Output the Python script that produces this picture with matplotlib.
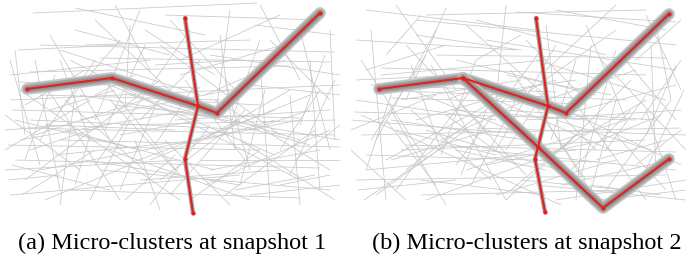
import matplotlib
matplotlib.use("Agg")
import matplotlib.pyplot as plt
from matplotlib.collections import LineCollection

# pixel-like coordinates inside each panel (x right, y down), panel is 346 x 215

# background trajectories, snapshot 1
seg_a = [
    (33, 13, 257, 3), (75, 8, 205, 35), (115, 5, 150, 70), (18, 50, 120, 45),
    (15, 50, 25, 135), (40, 45, 335, 52), (50, 35, 110, 140), (140, 10, 95, 120),
    (170, 20, 240, 95), (230, 10, 215, 120), (260, 5, 300, 80), (280, 15, 180, 60),
    (300, 30, 330, 150), (10, 75, 150, 60), (5, 115, 80, 170), (10, 100, 340, 85),
    (20, 140, 190, 110), (12, 165, 110, 190), (10, 195, 240, 175), (25, 180, 160, 80),
    (60, 205, 75, 95), (90, 200, 130, 120), (110, 150, 250, 200), (130, 95, 310, 145),
    (150, 205, 210, 125), (175, 120, 330, 110), (240, 140, 335, 200), (260, 60, 270, 200),
    (290, 95, 300, 205), (315, 130, 225, 195), (200, 160, 340, 160), (30, 120, 260, 130),
    (45, 85, 120, 200), (70, 60, 300, 180), (100, 170, 330, 190), (120, 40, 60, 110),
    (160, 45, 280, 135), (190, 30, 95, 165), (210, 55, 340, 75), (5, 150, 90, 100),
    (15, 120, 140, 150), (55, 155, 200, 140), (80, 120, 230, 90), (100, 75, 180, 175),
    (135, 140, 160, 210), (155, 65, 240, 60), (225, 80, 250, 170), (245, 110, 170, 195),
    (270, 40, 330, 100), (310, 60, 320, 190), (330, 30, 335, 140), (35, 60, 60, 190),
    (85, 45, 250, 40), (95, 20, 180, 100), (130, 25, 125, 110), (20, 90, 180, 200),
    (40, 170, 300, 120), (65, 130, 215, 170), (150, 160, 310, 95), (180, 75, 300, 40),
    (205, 185, 330, 130), (5, 130, 70, 125), (75, 185, 90, 135), (115, 105, 210, 115),
    (140, 180, 280, 170), (165, 140, 230, 205), (190, 200, 260, 150), (220, 35, 235, 150),
    (250, 85, 340, 95), (275, 120, 205, 140), (295, 160, 340, 125), (25, 105, 85, 70),
    (45, 200, 130, 165), (60, 50, 200, 95), (105, 130, 145, 45), (125, 200, 175, 155),
    (170, 100, 260, 105), (200, 120, 120, 135), (235, 190, 315, 175), (255, 25, 335, 35),
    (10, 60, 40, 165), (30, 150, 105, 125), (80, 95, 340, 140), (145, 30, 215, 75),
    (160, 180, 240, 120), (280, 185, 330, 175), (320, 90, 280, 150), (8, 180, 60, 175),
    (50, 110, 115, 90), (95, 60, 40, 140),
    (12, 110, 300, 118), (20, 128, 335, 135), (8, 145, 260, 150), (30, 72, 290, 66),
    (15, 160, 320, 168), (40, 95, 220, 100), (60, 140, 340, 147), (5, 170, 180, 160),
    (100, 58, 330, 62), (18, 82, 200, 88), (70, 190, 300, 198), (120, 125, 335, 120),
    (35, 135, 150, 98), (85, 160, 240, 185), (110, 85, 275, 155), (140, 120, 200, 60),
    (160, 95, 120, 190), (185, 150, 290, 90), (215, 100, 330, 170), (230, 125, 260, 40),
    (265, 90, 240, 185), (300, 140, 200, 110), (325, 55, 300, 125), (22, 195, 95, 150),
    (55, 75, 25, 160), (75, 30, 170, 55), (90, 140, 60, 60), (125, 165, 275, 110),
    (175, 170, 110, 100), (195, 85, 155, 145), (210, 170, 320, 150), (245, 160, 185, 80),
    (285, 60, 205, 95), (310, 110, 250, 130), (335, 80, 290, 175), (45, 125, 175, 130),
    (65, 100, 150, 175), (135, 75, 95, 95), (250, 195, 340, 185), (165, 15, 320, 20),
]

# background trajectories, snapshot 2
seg_b = [
    (20, 10, 190, 30), (50, 5, 110, 90), (80, 15, 300, 10), (100, 8, 60, 100),
    (130, 20, 260, 55), (160, 5, 150, 100), (210, 10, 320, 30), (240, 25, 280, 120),
    (270, 5, 200, 70), (300, 15, 335, 90), (10, 40, 170, 50), (15, 60, 80, 160),
    (25, 30, 40, 200), (35, 75, 200, 60), (60, 45, 140, 130), (70, 120, 210, 80),
    (90, 30, 30, 140), (110, 60, 250, 95), (125, 90, 50, 190), (140, 40, 330, 70),
    (165, 70, 240, 180), (180, 120, 335, 110), (195, 50, 110, 165), (220, 90, 300, 200),
    (235, 130, 160, 200), (255, 60, 340, 150), (285, 80, 215, 150), (305, 45, 310, 175),
    (325, 100, 260, 190), (10, 100, 150, 120), (5, 130, 90, 95), (20, 170, 230, 150),
    (30, 195, 120, 130), (45, 110, 100, 205), (55, 150, 300, 140), (75, 180, 200, 195),
    (95, 140, 180, 100), (115, 175, 150, 85), (135, 150, 330, 170), (150, 195, 270, 160),
    (170, 165, 100, 115), (190, 185, 340, 200), (205, 140, 230, 60), (225, 170, 285, 110),
    (250, 200, 200, 120), (270, 135, 320, 190), (290, 165, 335, 130), (315, 195, 245, 185),
    (10, 80, 120, 75), (40, 55, 75, 15), (65, 90, 190, 140), (85, 65, 160, 200),
    (105, 110, 240, 120), (120, 25, 210, 105), (145, 130, 45, 160), (175, 35, 130, 60),
    (185, 90, 270, 30), (215, 115, 330, 85), (245, 45, 230, 200), (265, 95, 160, 75),
    (295, 120, 335, 60), (320, 140, 250, 160), (5, 150, 60, 200), (15, 115, 215, 205),
    (30, 90, 280, 100), (50, 130, 150, 155), (70, 20, 330, 45), (90, 185, 40, 120),
    (110, 150, 200, 170), (130, 60, 95, 155), (155, 110, 310, 120), (165, 190, 230, 135),
    (200, 25, 215, 150), (230, 80, 125, 95), (260, 150, 300, 95), (280, 190, 175, 180),
    (300, 110, 330, 200), (335, 20, 290, 60), (12, 190, 110, 180), (25, 140, 80, 55),
    (60, 170, 140, 110), (80, 200, 190, 160), (100, 45, 20, 70), (140, 165, 260, 140),
    (190, 60, 320, 100), (210, 200, 340, 180), (240, 100, 180, 40), (275, 55, 330, 120),
    (310, 25, 325, 100), (55, 100, 175, 80),
    (8, 112, 290, 120), (15, 135, 335, 128), (20, 155, 250, 162), (35, 68, 300, 75),
    (10, 180, 320, 175), (45, 98, 240, 104), (60, 145, 330, 152), (5, 120, 190, 135),
    (90, 55, 320, 58), (25, 85, 210, 92), (75, 195, 280, 190), (130, 128, 340, 135),
    (40, 160, 160, 95), (80, 130, 230, 175), (105, 80, 265, 150), (150, 150, 210, 45),
    (170, 100, 125, 185), (195, 160, 300, 100), (220, 110, 335, 165), (235, 175, 270, 50),
    (270, 100, 245, 190), (305, 150, 210, 120), (330, 65, 300, 135), (18, 200, 100, 145),
    (50, 80, 20, 170), (70, 35, 175, 50), (95, 150, 65, 65), (120, 170, 280, 120),
    (180, 175, 115, 105), (200, 90, 160, 150), (215, 185, 325, 160), (250, 150, 190, 90),
    (290, 70, 200, 100), (315, 115, 255, 140), (338, 90, 295, 180), (45, 120, 180, 140),
    (65, 110, 145, 180), (140, 85, 100, 100), (255, 200, 340, 190), (170, 12, 330, 22),
]

# micro-cluster paths (red), snapshot 1
a1_x = [27, 112, 198, 217, 320]
a1_y = [89, 78, 106, 113, 13]
b1_x = [185, 198, 185, 193]
b1_y = [18, 106, 159, 213]

# snapshot 2
a2_x = [33, 117, 202, 220, 323]
a2_y = [89, 78, 106, 113, 14]
c2_x = [117, 192, 257, 323]
c2_y = [78, 147, 208, 159]
b2_x = [190, 202, 192, 189, 199]
b2_y = [18, 106, 147, 159, 212]

captions = ["(a) Micro-clusters at snapshot 1", "(b) Micro-clusters at snapshot 2"]

W, H = 692, 260
fig = plt.figure(figsize=(W / 100, H / 100), dpi=100)


def draw_panel(ax, segs, thick, thin):
    lines = [[(s[0], s[1]), (s[2], s[3])] for s in segs]
    ax.add_collection(LineCollection(lines, colors="#c8c8c8", linewidths=0.55))
    for xs, ys in thick:
        ax.plot(xs, ys, color="#c0c0c0", lw=8.5, solid_capstyle="round",
                solid_joinstyle="round", alpha=0.9)
        ax.plot(xs, ys, color="#a4a4a4", lw=6, solid_capstyle="round",
                solid_joinstyle="round")
        ax.plot(xs, ys, color="#8f8f8f", lw=3.5, solid_capstyle="round",
                solid_joinstyle="round")
    for xs, ys in thin:
        ax.plot(xs, ys, color="#a8a8a8", lw=3.2, solid_capstyle="round",
                solid_joinstyle="round")
    for xs, ys in thick + thin:
        ax.plot(xs, ys, color="#e3201c", lw=1.5, marker="o", ms=2,
                solid_joinstyle="round")
    ax.set_xlim(0, 346)
    ax.set_ylim(215, 0)
    ax.axis("off")


ax1 = fig.add_axes([0, 45 / H, 346 / W, 215 / H])
draw_panel(ax1, seg_a, [(a1_x, a1_y)], [(b1_x, b1_y)])

ax2 = fig.add_axes([346 / W, 45 / H, 346 / W, 215 / H])
draw_panel(ax2, seg_b, [(a2_x, a2_y), (c2_x, c2_y)], [(b2_x, b2_y)])

for cx, txt in zip([172, 527], captions):
    fig.text(cx / W, 1 - 249 / H, txt, ha="center", va="baseline",
             fontsize=17.5, family="Liberation Serif")

fig.savefig("out.png", dpi=100)
